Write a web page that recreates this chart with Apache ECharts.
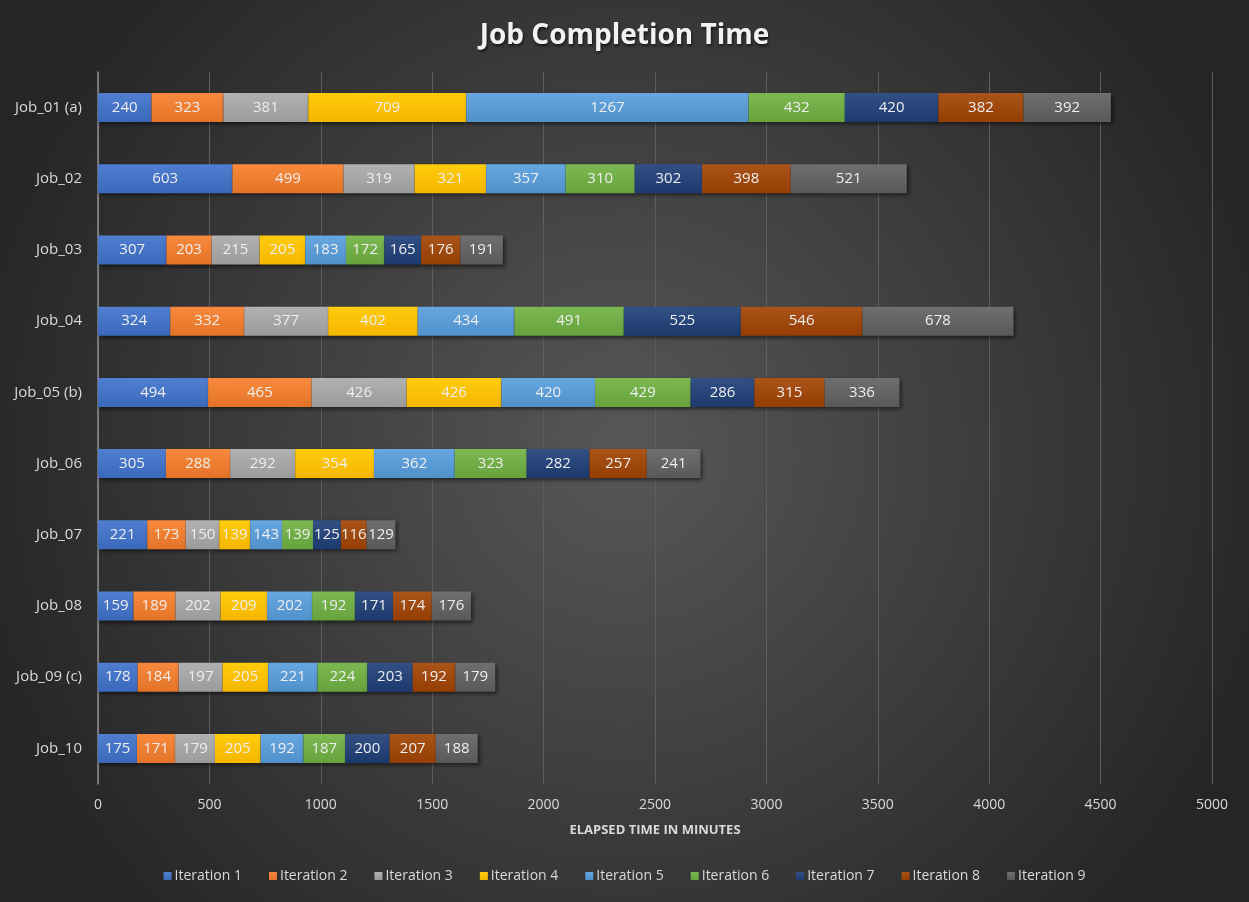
<!DOCTYPE html>
<html>
<head>
<meta charset="utf-8">
<script src="https://cdn.jsdelivr.net/npm/echarts@6/dist/echarts.min.js"></script>
<style>
  html, body { margin: 0; padding: 0; background: #2a2a2a; }
  #chart { width: 1249px; height: 902px; }
</style>
</head>
<body>
<div id="chart"></div>
<script>
// Jobs shown top to bottom
const jobs = ['Job_01 (a)', 'Job_02', 'Job_03', 'Job_04', 'Job_05 (b)', 'Job_06', 'Job_07', 'Job_08', 'Job_09 (c)', 'Job_10'];

// Elapsed minutes per iteration, one array per iteration (same order as jobs)
const iteration1 = [240, 603, 307, 324, 494, 305, 221, 159, 178, 175];
const iteration2 = [323, 499, 203, 332, 465, 288, 173, 189, 184, 171];
const iteration3 = [381, 319, 215, 377, 426, 292, 150, 202, 197, 179];
const iteration4 = [709, 321, 205, 402, 426, 354, 139, 209, 205, 205];
const iteration5 = [1267, 357, 183, 434, 420, 362, 143, 202, 221, 192];
const iteration6 = [432, 310, 172, 491, 429, 323, 139, 192, 224, 187];
const iteration7 = [420, 302, 165, 525, 286, 282, 125, 171, 203, 200];
const iteration8 = [382, 398, 176, 546, 315, 257, 116, 174, 192, 207];
const iteration9 = [392, 521, 191, 678, 336, 241, 129, 176, 179, 188];

const seriesNames = ['Iteration 1', 'Iteration 2', 'Iteration 3', 'Iteration 4', 'Iteration 5',
                     'Iteration 6', 'Iteration 7', 'Iteration 8', 'Iteration 9'];
const seriesValues = [iteration1, iteration2, iteration3, iteration4, iteration5,
                      iteration6, iteration7, iteration8, iteration9];
const seriesColors = ['#4472C4', '#ED7D31', '#A5A5A5', '#FFC000', '#5B9BD5',
                      '#70AD47', '#264478', '#9E480E', '#636363'];

// x axis ticks
const xMin = 0, xMax = 5000, xStep = 500;

const font = '"Open Sans", "Noto Sans", sans-serif';

const chart = echarts.init(document.getElementById('chart'), null, { renderer: 'canvas' });

function shade(hex, amt) {
  const n = parseInt(hex.slice(1), 16);
  let r = (n >> 16) & 255, g = (n >> 8) & 255, b = n & 255;
  r = Math.max(0, Math.min(255, Math.round(r + amt)));
  g = Math.max(0, Math.min(255, Math.round(g + amt)));
  b = Math.max(0, Math.min(255, Math.round(b + amt)));
  return 'rgb(' + r + ',' + g + ',' + b + ')';
}

const series = seriesNames.map((name, i) => ({
  name: name,
  type: 'bar',
  stack: 'total',
  barWidth: 29,
  data: seriesValues[i],
  itemStyle: {
    color: new echarts.graphic.LinearGradient(0, 0, 0, 1, [
      { offset: 0, color: shade(seriesColors[i], 12) },
      { offset: 1, color: shade(seriesColors[i], -10) }
    ]),
    shadowColor: 'rgba(0,0,0,0.55)',
    shadowBlur: 4,
    shadowOffsetX: 2,
    shadowOffsetY: 2
  },
  label: {
    show: true,
    position: 'inside',
    color: '#eeeeee',
    fontFamily: font,
    fontSize: 15
  },
  emphasis: { disabled: true }
}));

chart.setOption({
  backgroundColor: {
    type: 'radial', x: 0.5, y: 0.5, r: 0.75,
    colorStops: [
      { offset: 0, color: '#575757' },
      { offset: 1, color: '#252525' }
    ]
  },
  animation: false,
  title: {
    text: 'Job Completion Time',
    left: 'center',
    top: 17,
    textStyle: {
      color: '#f2f2f2',
      fontFamily: font,
      fontWeight: 'bold',
      fontSize: 28,
      textShadowColor: 'rgba(0,0,0,0.6)',
      textShadowBlur: 3,
      textShadowOffsetX: 1,
      textShadowOffsetY: 2
    }
  },
  legend: {
    bottom: 14,
    left: 'center',
    itemWidth: 8,
    itemHeight: 8,
    itemGap: 27,
    icon: 'rect',
    textStyle: { color: '#d9d9d9', fontFamily: font, fontSize: 14, padding: [0, 0, 0, -2] },
    data: seriesNames
  },
  grid: { left: 98, right: 37, top: 72, bottom: 118 },
  xAxis: {
    type: 'value',
    min: xMin,
    max: xMax,
    interval: xStep,
    name: 'ELAPSED TIME IN MINUTES',
    nameLocation: 'middle',
    nameGap: 40,
    nameTextStyle: { color: '#d9d9d9', fontFamily: font, fontWeight: 'bold', fontSize: 13 },
    axisLine: { show: false },
    axisTick: { show: false },
    axisLabel: { color: '#d9d9d9', fontFamily: font, fontSize: 14, margin: 14,
                 formatter: v => String(v) },
    splitLine: { show: true, lineStyle: { color: '#5e5e5e', width: 1 } }
  },
  yAxis: {
    type: 'category',
    data: jobs,
    inverse: true,
    axisLine: { show: true, lineStyle: { color: '#8c8c8c', width: 1.5 } },
    axisTick: { show: false },
    axisLabel: { color: '#d9d9d9', fontFamily: font, fontSize: 15, margin: 16 },
    splitLine: { show: false }
  },
  series: series
});
</script>
</body>
</html>
